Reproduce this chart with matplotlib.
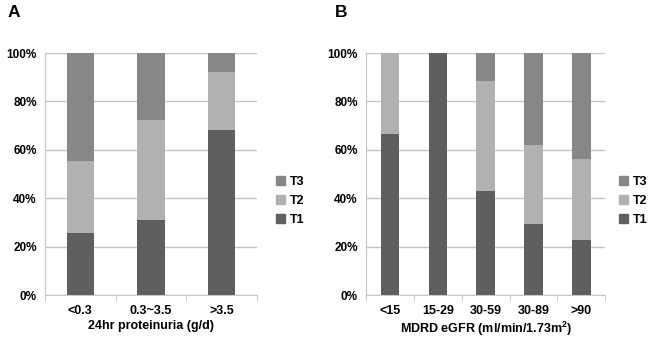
import matplotlib
matplotlib.use("Agg")
import matplotlib.pyplot as plt
import matplotlib.patches as mpatches
import numpy as np

plt.rcParams["font.family"] = ["Liberation Sans", "DejaVu Sans"]
plt.rcParams["font.weight"] = "bold"

# panel A: 24hr proteinuria
cats_a = ["<0.3", "0.3~3.5", ">3.5"]
t1_a = [25.5, 30.9, 68.3]
t2_a = [30.0, 41.6, 23.8]
t3_a = [44.5, 27.5, 7.9]

# panel B: MDRD eGFR
cats_b = ["<15", "15-29", "30-59", "30-89", ">90"]
t1_b = [66.7, 100.0, 42.9, 29.5, 22.7]
t2_b = [33.3, 0.0, 45.7, 32.6, 33.5]
t3_b = [0.0, 0.0, 11.4, 37.9, 43.8]

COLORS = {"T1": "#5f5f5f", "T2": "#b1b1b1", "T3": "#878787"}
GRID = "#c6c6c6"


def panel(fig, rect, cats, t1, t2, t3, xlabel, width, letter, letter_x, leg_x):
    ax = fig.add_axes(rect)
    xs = np.arange(len(cats))
    bottom = np.zeros(len(cats))
    for name, vals in (("T1", t1), ("T2", t2), ("T3", t3)):
        ax.bar(xs, vals, bottom=bottom, width=width, color=COLORS[name], zorder=2)
        bottom = bottom + np.array(vals)
    ax.set_xlim(-0.5, len(cats) - 0.5)
    ax.set_ylim(0, 100)
    ax.set_yticks(range(0, 101, 20))
    ax.set_yticklabels([f"{v}%" for v in range(0, 101, 20)], fontsize=8.5, fontweight="bold")
    ax.yaxis.grid(True, color=GRID, lw=1.0, zorder=0)
    ax.tick_params(axis="y", length=0, pad=6)
    ax.set_xticks(xs)
    ax.set_xticklabels(cats, fontsize=9, fontweight="bold")
    ax.set_xticks(np.arange(-0.5, len(cats)), minor=True)
    ax.tick_params(axis="x", which="major", length=0, pad=7)
    ax.tick_params(axis="x", which="minor", length=4, color=GRID)
    ax.set_xlabel(xlabel, fontsize=9, fontweight="bold", labelpad=2)
    for s in ("top", "right"):
        ax.spines[s].set_visible(False)
    ax.spines["left"].set_color(GRID)
    ax.spines["bottom"].set_color(GRID)
    fig.text(letter_x, 0.962, letter, fontsize=12.5, fontweight="bold", va="center")
    handles = [mpatches.Patch(color=COLORS[n], label=n) for n in ("T3", "T2", "T1")]
    fig.legend(handles=handles, loc="center left", bbox_to_anchor=(leg_x, 0.405),
               frameon=False, fontsize=9, handlelength=0.7, handleheight=0.7,
               handletextpad=0.4, labelspacing=0.55, borderaxespad=0)
    return ax


fig = plt.figure(figsize=(6.48, 3.38), dpi=100)
panel(fig, [0.0694, 0.127, 0.327, 0.716], cats_a, t1_a, t2_a, t3_a,
      "24hr proteinuria (g/d)", 0.39, "A", 0.012, 0.418)
panel(fig, [0.565, 0.127, 0.369, 0.716], cats_b, t1_b, t2_b, t3_b,
      "MDRD eGFR (ml/min/1.73m$\\mathregular{^2}$)", 0.385, "B", 0.517, 0.948)
fig.savefig("out.png", dpi=100)
